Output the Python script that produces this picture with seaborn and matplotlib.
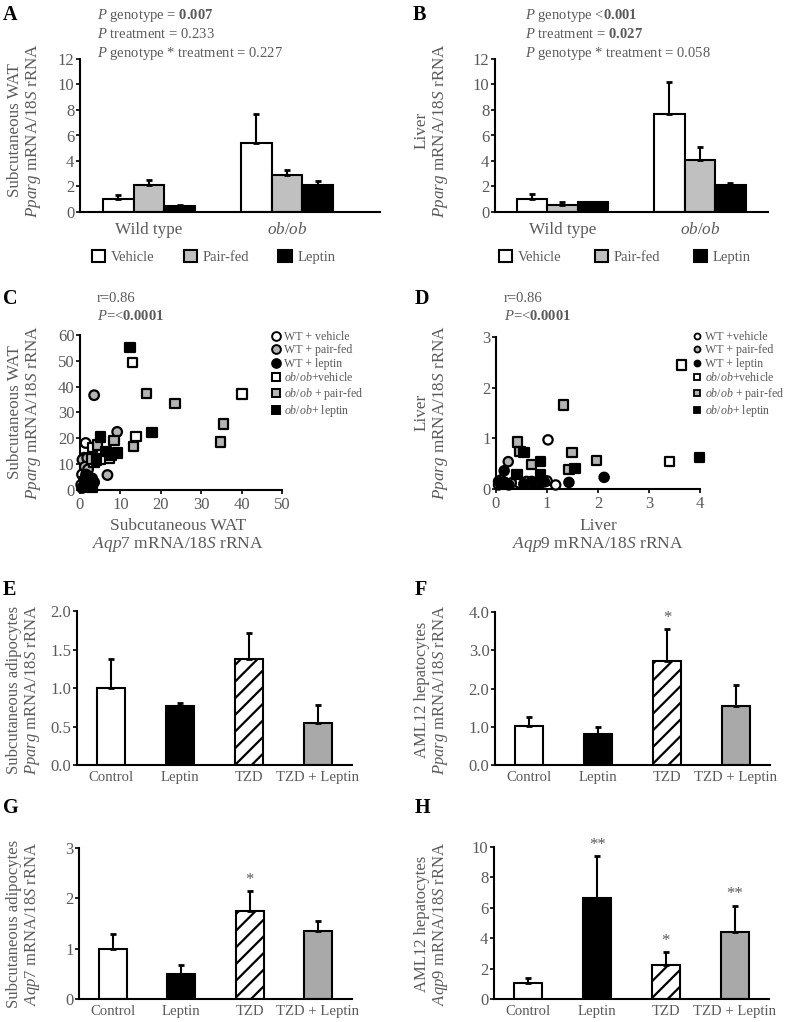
import numpy as np
import pandas as pd
import matplotlib
matplotlib.use("Agg")
import matplotlib.pyplot as plt
import seaborn as sns
from matplotlib.lines import Line2D
from matplotlib.patches import Patch

# ---------------- data ----------------
genotypes = ["Wild type", "ob/ob"]
genotype_labels = ["Wild type", r"$\it{ob/ob}$"]
treatments = ["Vehicle", "Pair-fed", "Leptin"]

# Panel A: subcutaneous WAT Pparg (per treatment: [WT, ob/ob])
a_vehicle = [1.00, 5.45]
a_vehicle_sem = [0.30, 2.25]
a_pairfed = [2.10, 2.90]
a_pairfed_sem = [0.40, 0.42]
a_leptin = [0.45, 2.10]
a_leptin_sem = [0.10, 0.32]

# Panel B: liver Pparg
b_vehicle = [1.00, 7.70]
b_vehicle_sem = [0.45, 2.50]
b_pairfed = [0.55, 4.10]
b_pairfed_sem = [0.20, 1.00]
b_leptin = [0.75, 2.10]
b_leptin_sem = [0.07, 0.20]

# Panels C / D scatter groups
groups = ["WT + vehicle", "WT + pair-fed", "WT + leptin",
          "ob/ob + vehicle", "ob/ob + pair-fed", "ob/ob + leptin"]

c_wt_vehicle_x = [1.4, 1.0, 0.5, 0.3, 2.2, 1.8, 0.8]
c_wt_vehicle_y = [18.2, 12.5, 6.0, 2.0, 4.0, 10.5, 1.0]
c_wt_pairfed_x = [3.5, 9.2, 6.8, 0.6, 1.8, 1.2, 2.0]
c_wt_pairfed_y = [36.7, 22.5, 5.8, 11.7, 12.4, 9.0, 8.0]
c_wt_leptin_x = [1.0, 2.0, 3.0, 2.5, 1.5, 3.5, 0.5]
c_wt_leptin_y = [4.0, 2.5, 4.5, 1.5, 6.0, 3.0, 0.8]
c_ob_vehicle_x = [13.0, 40.1, 13.8, 7.2, 3.1, 5.0, 3.5]
c_ob_vehicle_y = [49.4, 37.2, 20.7, 12.4, 16.5, 12.0, 10.8]
c_ob_pairfed_x = [16.5, 23.5, 35.5, 34.8, 13.2, 8.4, 4.3, 2.8]
c_ob_pairfed_y = [37.3, 33.5, 25.6, 18.7, 16.9, 19.1, 17.5, 12.1]
c_ob_leptin_x = [12.4, 17.8, 5.1, 6.4, 9.3, 7.6, 4.1, 2.5, 3.0]
c_ob_leptin_y = [55.2, 22.3, 20.5, 14.9, 14.3, 13.6, 11.6, 3.0, 1.0]

d_wt_vehicle_x = [1.02, 1.00, 1.17, 0.60, 0.45, 0.10, 0.80]
d_wt_vehicle_y = [0.97, 0.16, 0.08, 0.15, 0.12, 0.10, 0.12]
d_wt_pairfed_x = [0.24, 0.30, 0.10, 0.55, 0.70, 0.05]
d_wt_pairfed_y = [0.54, 0.12, 0.18, 0.10, 0.15, 0.08]
d_wt_leptin_x = [0.16, 2.12, 1.43, 0.05, 0.25, 0.55, 0.85, 0.95, 0.70]
d_wt_leptin_y = [0.36, 0.23, 0.13, 0.15, 0.08, 0.10, 0.10, 0.14, 0.12]
d_ob_vehicle_x = [3.64, 3.40]
d_ob_vehicle_y = [2.45, 0.54]
d_ob_pairfed_x = [1.33, 0.42, 0.47, 0.69, 1.49, 1.97, 1.43]
d_ob_pairfed_y = [1.66, 0.93, 0.74, 0.49, 0.72, 0.56, 0.38]
d_ob_leptin_x = [0.55, 0.87, 1.55, 3.99, 0.41, 0.87, 0.12]
d_ob_leptin_y = [0.72, 0.54, 0.41, 0.62, 0.28, 0.28, 0.12]

# Panels E-H cell experiments
cells = ["Control", "Leptin", "TZD", "TZD + Leptin"]
e_mean = [1.00, 0.76, 1.38, 0.54]
e_sem = [0.38, 0.05, 0.34, 0.24]
f_mean = [1.02, 0.80, 2.72, 1.55]
f_sem = [0.23, 0.20, 0.83, 0.55]
f_stars = ["", "", "*", ""]
g_mean = [1.00, 0.50, 1.75, 1.35]
g_sem = [0.30, 0.18, 0.40, 0.20]
g_stars = ["", "", "*", ""]
h_mean = [1.05, 6.65, 2.25, 4.40]
h_sem = [0.30, 2.75, 0.85, 1.75]
h_stars = ["", "**", "*", "**"]

# ---------------- style ----------------
sns.set_theme(style="ticks")
plt.rcParams["font.family"] = ["Liberation Serif", "DejaVu Serif"]
plt.rcParams["mathtext.fontset"] = "custom"
plt.rcParams["mathtext.rm"] = "Liberation Serif"
plt.rcParams["mathtext.it"] = "Liberation Serif:italic"
plt.rcParams["mathtext.bf"] = "Liberation Serif:bold"
plt.rcParams["hatch.color"] = "black"
plt.rcParams["hatch.linewidth"] = 1.6

GRAY_TXT = "#5a5a5a"
treat_colors = {"Vehicle": "white", "Pair-fed": "#c0c0c0", "Leptin": "black"}
cell_colors = {"Control": "white", "Leptin": "black", "TZD": "white", "TZD + Leptin": "#a9a9a9"}
grp_face = {"WT + vehicle": "white", "WT + pair-fed": "#b4b4b4", "WT + leptin": "black",
            "ob/ob + vehicle": "white", "ob/ob + pair-fed": "#b4b4b4", "ob/ob + leptin": "black"}
grp_marker = {"WT + vehicle": "o", "WT + pair-fed": "o", "WT + leptin": "o",
              "ob/ob + vehicle": "s", "ob/ob + pair-fed": "s", "ob/ob + leptin": "s"}

W, H = 787, 1022
fig = plt.figure(figsize=(W / 100, H / 100), dpi=100)


def axes_px(x0, x1, y0, y1):
    return fig.add_axes([x0 / W, 1 - y1 / H, (x1 - x0) / W, (y1 - y0) / H])


def fx(px):
    return px / W


def fy(py):
    return 1 - py / H


def style_axes(ax, xticks_len=0):
    for s in ["top", "right"]:
        ax.spines[s].set_visible(False)
    for s in ["left", "bottom"]:
        ax.spines[s].set_linewidth(1.5)
        ax.spines[s].set_color("black")
    ax.tick_params(axis="y", direction="out", length=3, width=1.2, color="black",
                   labelsize=12, labelcolor=GRAY_TXT, pad=1)
    ax.tick_params(axis="x", direction="out", length=xticks_len, width=1.2, color="black",
                   labelcolor=GRAY_TXT)
    ax.set_xlabel("")
    ax.set_ylabel("")


def grouped_panel(ax, means, sems, xlim, ylim, yticks):
    rows = []
    for t, m in zip(treatments, means):
        for g, v in zip(genotypes, m):
            rows.append({"genotype": g, "treatment": t, "value": v})
    df = pd.DataFrame(rows)
    sns.barplot(data=df, x="genotype", y="value", hue="treatment", order=genotypes,
                hue_order=treatments, palette=treat_colors, width=0.667, saturation=1,
                edgecolor="black", linewidth=1.5, errorbar=None, legend=False, ax=ax)
    patches = list(ax.patches)
    k = 0
    for ti in range(len(treatments)):
        for gi in range(len(genotypes)):
            p = patches[k]
            k += 1
            xc = p.get_x() + p.get_width() / 2
            ax.errorbar(xc, p.get_height(), yerr=[[0], [sems[ti][gi]]], fmt="none",
                        ecolor="black", elinewidth=1.5, capsize=2.5, capthick=2, zorder=1)
    ax.set_xlim(*xlim)
    ax.set_ylim(*ylim)
    ax.set_yticks(yticks)
    style_axes(ax)
    ax.set_xticks(range(len(genotypes)))
    ax.set_xticklabels(genotype_labels, fontsize=12.3)
    ax.tick_params(axis="x", pad=7)


def cell_panel(ax, mean, sem, ylim, yticks, fmt, stars=None):
    sns.barplot(x=cells, y=mean, hue=cells, order=cells, hue_order=cells,
                palette=cell_colors, width=0.41, saturation=1, edgecolor="black",
                linewidth=1.5, errorbar=None, legend=False, ax=ax)
    patches = list(ax.patches)
    for i, p in enumerate(patches):
        if cells[i] == "TZD":
            p.set_hatch("//")
        xc = p.get_x() + p.get_width() / 2
        ax.errorbar(xc, p.get_height(), yerr=[[0], [sem[i]]], fmt="none",
                    ecolor="black", elinewidth=1.5, capsize=2.5, capthick=2, zorder=1)
        if stars is not None and stars[i]:
            ax.annotate(stars[i], xy=(xc, mean[i] + sem[i]), xytext=(0, 8),
                        textcoords="offset points", ha="center", va="center",
                        fontsize=12, color=GRAY_TXT, annotation_clip=False)
    ax.set_xlim(-0.5, 3.5)
    ax.set_ylim(*ylim)
    ax.set_yticks(yticks)
    ax.set_yticklabels([fmt.format(v) for v in yticks])
    style_axes(ax)
    ax.set_xticks(range(len(cells)))
    ax.set_xticklabels(cells, fontsize=10.6)
    ax.tick_params(axis="x", pad=4)


def scatter_panel(ax, xs, ys, xlim, ylim, xticks, yticks, size):
    rows = []
    for g, gx, gy in zip(groups, xs, ys):
        for xv, yv in zip(gx, gy):
            rows.append({"x": xv, "y": yv, "group": g})
    df = pd.DataFrame(rows)
    sns.scatterplot(data=df, x="x", y="y", hue="group", style="group", hue_order=groups,
                    style_order=groups, palette=grp_face, markers=grp_marker, s=size,
                    edgecolor="black", linewidth=1.6, legend=False, ax=ax, clip_on=False,
                    zorder=3)
    ax.set_xlim(*xlim)
    ax.set_ylim(*ylim)
    ax.set_xticks(xticks)
    ax.set_yticks(yticks)
    style_axes(ax, xticks_len=3)
    ax.tick_params(axis="x", labelsize=12, pad=2)


def ylabel2(xpx, ypx, text, size=12.3):
    fig.text(fx(xpx), fy(ypx), text, rotation=90, ha="center", va="center",
             multialignment="center", fontsize=size, color=GRAY_TXT, linespacing=1.15)


def letter(xpx, ypx, s):
    fig.text(fx(xpx), fy(ypx), s, ha="left", va="center", fontsize=14.5,
             fontweight="bold", color="black")


# ---------------- Panel A ----------------
axA = axes_px(80, 380, 59, 212)
grouped_panel(axA, [a_vehicle, a_pairfed, a_leptin],
              [a_vehicle_sem, a_pairfed_sem, a_leptin_sem],
              (-0.5, 1.674), (0, 12), range(0, 13, 2))
ylabel2(25, 130, "Subcutaneous WAT\n" + r"$\it{Pparg}$ mRNA/$\it{18S}$ rRNA")
letter(3, 15, "A")
for i, s in enumerate([r"$\it{P}$ genotype = $\bf{0.007}$",
                       r"$\it{P}$ treatment = 0.233",
                       r"$\it{P}$ genotype * treatment = 0.227"]):
    fig.text(fx(97), fy(15 + 19 * i), s, ha="left", va="center", fontsize=10.5, color=GRAY_TXT)

# ---------------- Panel B ----------------
axB = axes_px(495, 768, 59, 212)
grouped_panel(axB, [b_vehicle, b_pairfed, b_leptin],
              [b_vehicle_sem, b_pairfed_sem, b_leptin_sem],
              (-0.49, 1.495), (0, 12), range(0, 13, 2))
ylabel2(432, 130, "Liver\n" + r"$\it{Pparg}$ mRNA/$\it{18S}$ rRNA")
letter(413, 15, "B")
for i, s in enumerate([r"$\it{P}$ genotype <$\bf{0.001}$",
                       r"$\it{P}$ treatment = $\bf{0.027}$",
                       r"$\it{P}$ genotype * treatment = 0.058"]):
    fig.text(fx(525), fy(15 + 19 * i), s, ha="left", va="center", fontsize=10.5, color=GRAY_TXT)

# treatment legends under A and B
leg_handles = [Patch(facecolor=treat_colors[t], edgecolor="black", linewidth=1.5) for t in treatments]
for xl, cs in [(92, 2.0), (499, 2.3)]:
    lg = fig.legend(leg_handles, treatments, ncol=3, loc="center left",
                    bbox_to_anchor=(fx(xl), fy(257)), frameon=False, fontsize=10.5,
                    handlelength=0.9, handleheight=0.9, handletextpad=0.4,
                    columnspacing=cs, borderpad=0, borderaxespad=0)
    for t in lg.get_texts():
        t.set_color(GRAY_TXT)

# ---------------- Panel C ----------------
axC = axes_px(80, 282, 335, 490)
scatter_panel(axC,
              [c_wt_vehicle_x, c_wt_pairfed_x, c_wt_leptin_x, c_ob_vehicle_x, c_ob_pairfed_x, c_ob_leptin_x],
              [c_wt_vehicle_y, c_wt_pairfed_y, c_wt_leptin_y, c_ob_vehicle_y, c_ob_pairfed_y, c_ob_leptin_y],
              (0, 50), (0, 60), range(0, 51, 10), range(0, 61, 10), 48)
ylabel2(25, 412, "Subcutaneous WAT\n" + r"$\it{Pparg}$ mRNA/$\it{18S}$ rRNA")
fig.text(fx(178), fy(536), "Subcutaneous WAT\n" + r"$\it{Aqp7}$ mRNA/$\it{18S}$ rRNA",
         ha="center", va="center", multialignment="center", fontsize=12.5,
         color=GRAY_TXT, linespacing=1.15)
letter(3, 299, "C")
fig.text(fx(97), fy(298), "r=0.86", ha="left", va="center", fontsize=10.5, color=GRAY_TXT)
fig.text(fx(97), fy(316), r"$\it{P}$=<$\bf{0.0001}$", ha="left", va="center", fontsize=10.5, color=GRAY_TXT)

c_labels = ["WT + vehicle", "WT + pair-fed", "WT + leptin",
            r"$\it{ob/ob}$+vehicle", r"$\it{ob/ob}$ + pair-fed", r"$\it{ob/ob}$+ leptin"]
d_labels = ["WT +vehicle", "WT + pair-fed", "WT + leptin",
            r"$\it{ob/ob}$+vehicle", r"$\it{ob/ob}$ + pair-fed", r"$\it{ob/ob}$+ leptin"]


def scatter_legend(ax, labels, xpx, ypx, msize, mew):
    handles = [Line2D([], [], linestyle="none", marker=grp_marker[g], markersize=msize,
                      markerfacecolor=grp_face[g], markeredgecolor="black", markeredgewidth=mew)
               for g in groups]
    lg = ax.legend(handles, labels, loc="upper left", bbox_to_anchor=(fx(xpx), fy(ypx)),
                   bbox_transform=fig.transFigure, frameon=False, fontsize=8.6,
                   handlelength=0.9, handletextpad=0.15, labelspacing=0.12,
                   borderpad=0, borderaxespad=0)
    for t in lg.get_texts():
        t.set_color(GRAY_TXT)


scatter_legend(axC, c_labels, 271, 331, 6.3, 1.4)

# ---------------- Panel D ----------------
axD = axes_px(496, 700, 337, 489)
scatter_panel(axD,
              [d_wt_vehicle_x, d_wt_pairfed_x, d_wt_leptin_x, d_ob_vehicle_x, d_ob_pairfed_x, d_ob_leptin_x],
              [d_wt_vehicle_y, d_wt_pairfed_y, d_wt_leptin_y, d_ob_vehicle_y, d_ob_pairfed_y, d_ob_leptin_y],
              (0, 4), (0, 3), range(0, 5), range(0, 4), 45)
ylabel2(432, 412, "Liver\n" + r"$\it{Pparg}$ mRNA/$\it{18S}$ rRNA")
fig.text(fx(598), fy(536), "Liver\n" + r"$\it{Aqp9}$ mRNA/$\it{18S}$ rRNA",
         ha="center", va="center", multialignment="center", fontsize=12.5,
         color=GRAY_TXT, linespacing=1.15)
letter(415, 299, "D")
fig.text(fx(504), fy(298), "r=0.86", ha="left", va="center", fontsize=10.5, color=GRAY_TXT)
fig.text(fx(504), fy(316), r"$\it{P}$=<$\bf{0.0001}$", ha="left", va="center", fontsize=10.5, color=GRAY_TXT)
scatter_legend(axD, d_labels, 692, 331, 4.3, 1.3)

# ---------------- Panel E ----------------
axE = axes_px(77, 352, 611, 765)
cell_panel(axE, e_mean, e_sem, (0, 2.0), [0.0, 0.5, 1.0, 1.5, 2.0], "{:.1f}")
ylabel2(24, 690, "Subcutaneous adipocytes\n" + r"$\it{Pparg}$ mRNA/$\it{18S}$ rRNA", 12.0)
letter(3, 590, "E")

# ---------------- Panel F ----------------
axF = axes_px(495, 770, 612, 765)
cell_panel(axF, f_mean, f_sem, (0, 4.0), [0.0, 1.0, 2.0, 3.0, 4.0], "{:.1f}", f_stars)
ylabel2(432, 690, "AML12 hepatocytes\n" + r"$\it{Pparg}$ mRNA/$\it{18S}$ rRNA", 12.0)
letter(415, 590, "F")

# ---------------- Panel G ----------------
axG = axes_px(79, 352, 848, 999)
cell_panel(axG, g_mean, g_sem, (0, 3), [0, 1, 2, 3], "{:.0f}", g_stars)
ylabel2(24, 924, "Subcutaneous adipocytes\n" + r"$\it{Aqp7}$ mRNA/$\it{18S}$ rRNA", 12.0)
letter(3, 808, "G")

# ---------------- Panel H ----------------
axH = axes_px(494, 769, 847, 999)
cell_panel(axH, h_mean, h_sem, (0, 10), [0, 2, 4, 6, 8, 10], "{:.0f}", h_stars)
ylabel2(432, 924, "AML12 hepatocytes\n" + r"$\it{Aqp9}$ mRNA/$\it{18S}$ rRNA", 12.0)
letter(415, 808, "H")

fig.savefig("out.png", dpi=100, facecolor="white")
